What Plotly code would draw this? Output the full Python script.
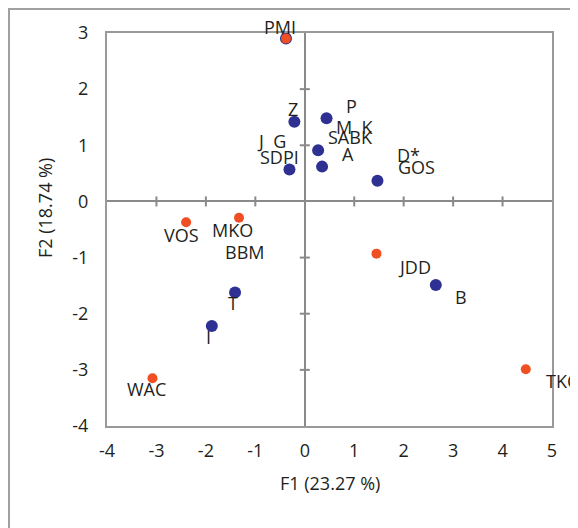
import plotly.graph_objects as go

# ---- data ----
blue_names = ["PMI", "Z", "P", "MK", "A", "SDPI", "GOS", "T", "I", "B"]
blue_x = [-0.38, -0.21, 0.44, 0.27, 0.35, -0.31, 1.47, -1.41, -1.88, 2.65]
blue_y = [2.90, 1.42, 1.48, 0.91, 0.62, 0.57, 0.37, -1.62, -2.22, -1.49]

orange_names = ["PMI", "VOS", "MKO", "JDD", "TKC", "WAC"]
orange_x = [-0.38, -2.40, -1.33, 1.45, 4.47, -3.08]
orange_y = [2.90, -0.37, -0.29, -0.93, -2.99, -3.15]

x_ticks = [-4, -3, -2, -1, 0, 1, 2, 3, 4, 5]
y_ticks = [-4, -3, -2, -1, 0, 1, 2, 3]
x_tick_text = ["-4", "-3", "-2", "-1", "0", "1", "2", "3", "4", "5"]
y_tick_text = ["-4", "-3", "-2", "-1", "0", "1", "2", "3"]
x_title = "F1 (23.27 %)"
y_title = "F2 (18.74 %)"

# labels: (text, index of point in its series)
blue_labels = [("Z", 1), ("P", 2), ("M  K", 3), ("SABK", 3), ("A", 4),
               ("SDPI", 5), ("J  G", 5), ("D*", 6), ("GOS", 6),
               ("T", 7), ("I", 8), ("B", 9)]
orange_labels = [("PMI", 0), ("VOS", 1), ("MKO", 2), ("BBM", 2),
                 ("JDD", 3), ("TKC", 4), ("WAC", 5)]
# pixel offsets of label centres from their points (style)
blue_offsets = [(-1, 13), (25, 12), (37, 23), (32, 13), (26, 13),
                (-10, 12), (-18, 28), (31, 26), (39, 14),
                (-2, -11), (-3, -11), (25, -12)]
orange_offsets = [(-6, 12), (-5, -13), (-7, -12), (5, -34),
                  (38, -13), (36, -12), (-6, -11)]

BLUE = "#2E3192"
ORANGE = "#F04E23"
GRID = "#8a8a8a"
FONT = "Open Sans"
FS = 18
TXT = "#231F20"

fig = go.Figure()
fig.add_trace(go.Scatter(x=blue_x, y=blue_y, mode="markers",
                         marker=dict(color=BLUE, size=12), hoverinfo="skip"))
fig.add_trace(go.Scatter(x=orange_x, y=orange_y, mode="markers",
                         marker=dict(color=ORANGE, size=10), hoverinfo="skip"))

for (txt, i), (dx, dy) in zip(blue_labels, blue_offsets):
    fig.add_annotation(x=blue_x[i], y=blue_y[i], text=txt, showarrow=False,
                       xanchor="center", yanchor="middle",
                       xshift=dx, yshift=dy, font=dict(family=FONT, size=FS, color=TXT))
for (txt, i), (dx, dy) in zip(orange_labels, orange_offsets):
    fig.add_annotation(x=orange_x[i], y=orange_y[i], text=txt, showarrow=False,
                       xanchor="center", yanchor="middle",
                       xshift=dx, yshift=dy, font=dict(family=FONT, size=FS, color=TXT))

# cross ticks on zero lines
for k in x_ticks:
    if k in (x_ticks[0], 0, x_ticks[-1]):
        continue
    fig.add_shape(type="line", xref="x", yref="y", x0=k, x1=k,
                  ysizemode="pixel", yanchor=0, y0=-5, y1=5,
                  line=dict(color=GRID, width=2))
for k in y_ticks:
    if k in (y_ticks[0], 0, y_ticks[-1]):
        continue
    fig.add_shape(type="line", xref="x", yref="y", y0=k, y1=k,
                  xsizemode="pixel", xanchor=0, x0=-5, x1=5,
                  line=dict(color=GRID, width=2))

# outer frame (left and top edges visible)
fig.add_shape(type="rect", xref="paper", yref="paper",
              x0=-0.2202, x1=1.2, y0=-0.4, y1=1.0611,
              line=dict(color="#a0a0a0", width=2), layer="below")

fig.add_annotation(xref="paper", yref="paper", x=0.5, y=-0.145, text=x_title,
                   xanchor="center", yanchor="middle",
                   showarrow=False, font=dict(family=FONT, size=FS, color=TXT))
fig.add_annotation(xref="paper", yref="paper", x=-0.139, y=0.555, text=y_title,
                   xanchor="center", yanchor="middle",
                   textangle=-90, showarrow=False,
                   font=dict(family=FONT, size=FS, color=TXT))

axis_common = dict(showgrid=False, zeroline=True, zerolinecolor=GRID, zerolinewidth=2,
                   showline=True, linecolor="#999999", linewidth=2, mirror=True,
                   ticks="outside", tickcolor="rgba(0,0,0,0)",
                   tickfont=dict(family=FONT, size=FS, color=TXT))
fig.update_xaxes(range=[-4, 5], tickvals=x_ticks, ticktext=x_tick_text, ticklen=7, **axis_common)
fig.update_yaxes(range=[-4, 3], tickvals=y_ticks, ticktext=y_tick_text, ticklen=13, **axis_common)

fig.update_layout(width=570, height=520, showlegend=False,
                  margin=dict(l=99, r=26, t=25, b=102),
                  paper_bgcolor="white", plot_bgcolor="white")
fig.write_html("out.html")
